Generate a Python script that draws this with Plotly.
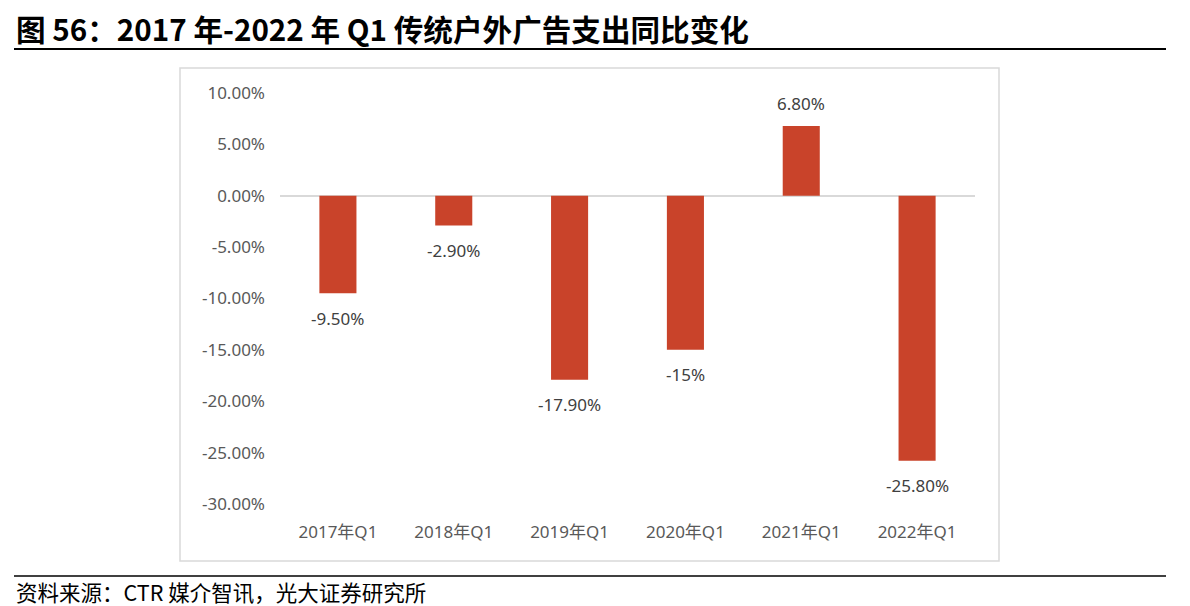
import plotly.graph_objects as go

categories = ["2017年Q1", "2018年Q1", "2019年Q1", "2020年Q1", "2021年Q1", "2022年Q1"]
values = [-9.5, -2.9, -17.9, -15.0, 6.8, -25.8]
value_labels = ["-9.50%", "-2.90%", "-17.90%", "-15%", "6.80%", "-25.80%"]
y_tick_values = [10, 5, 0, -5, -10, -15, -20, -25, -30]
y_tick_labels = ["10.00%", "5.00%", "0.00%", "-5.00%", "-10.00%", "-15.00%", "-20.00%", "-25.00%", "-30.00%"]

W, H = 1190, 606
BAR = "#C9432A"
FONT = "Noto Sans, Noto Sans CJK SC, sans-serif"

fig = go.Figure()
fig.add_trace(go.Bar(
    x=categories, y=values, marker_color=BAR, marker_line_width=0,
    hoverinfo="skip",
))

def px(x):
    return x / W

def py(y):
    return 1 - y / H

annotations = [
    dict(text="<b>图 56：2017 年-2022 年 Q1 传统户外广告支出同比变化</b>", xref="paper", yref="paper",
         x=px(14), y=py(28), xanchor="left", yanchor="middle", showarrow=False,
         font=dict(size=29.6, color="black", family="Noto Sans CJK SC, sans-serif")),
    dict(text="资料来源：CTR 媒介智讯，光大证券研究所", xref="paper", yref="paper",
         x=px(14), y=py(591), xanchor="left", yanchor="middle", showarrow=False,
         font=dict(size=21.5, color="black", family="Noto Sans CJK SC, sans-serif")),
]
for c, v, t in zip(categories, values, value_labels):
    annotations.append(dict(
        x=c, y=v, xref="x", yref="y", text=t, showarrow=False,
        yanchor="middle", yshift=(22 if v >= 0 else -25),
        font=dict(size=17, color="#404040", family=FONT),
    ))

fig.update_layout(
    width=W, height=H,
    margin=dict(l=0, r=0, t=0, b=0, autoexpand=False),
    paper_bgcolor="white", plot_bgcolor="white",
    showlegend=False,
    bargap=0.68,
    xaxis=dict(domain=[px(280), px(975)], showline=False, showgrid=False, ticks="",
               tickfont=dict(size=17, color="#595959", family=FONT), ticklabelstandoff=16,
               fixedrange=True),
    yaxis=dict(domain=[py(504), py(93)], range=[-30, 10], showgrid=False, showline=False,
               zeroline=True, zerolinecolor="#D9D9D9", zerolinewidth=1.5,
               tickvals=y_tick_values, ticktext=y_tick_labels, ticks="",
               tickfont=dict(size=17, color="#595959", family=FONT), ticklabelstandoff=14,
               fixedrange=True),
    shapes=[
        dict(type="line", xref="paper", yref="paper", x0=px(14), x1=px(1166), y0=py(49), y1=py(49),
             line=dict(color="black", width=2)),
        dict(type="rect", xref="paper", yref="paper", x0=px(180), x1=px(999), y0=py(561), y1=py(68),
             line=dict(color="#D9D9D9", width=1.5)),
        dict(type="line", xref="paper", yref="paper", x0=px(14), x1=px(1166), y0=py(576), y1=py(576),
             line=dict(color="black", width=1.5)),
    ],
    annotations=annotations,
)

fig.write_html("out.html", config={"displayModeBar": False},
               post_script="document.body.style.margin='0';")
